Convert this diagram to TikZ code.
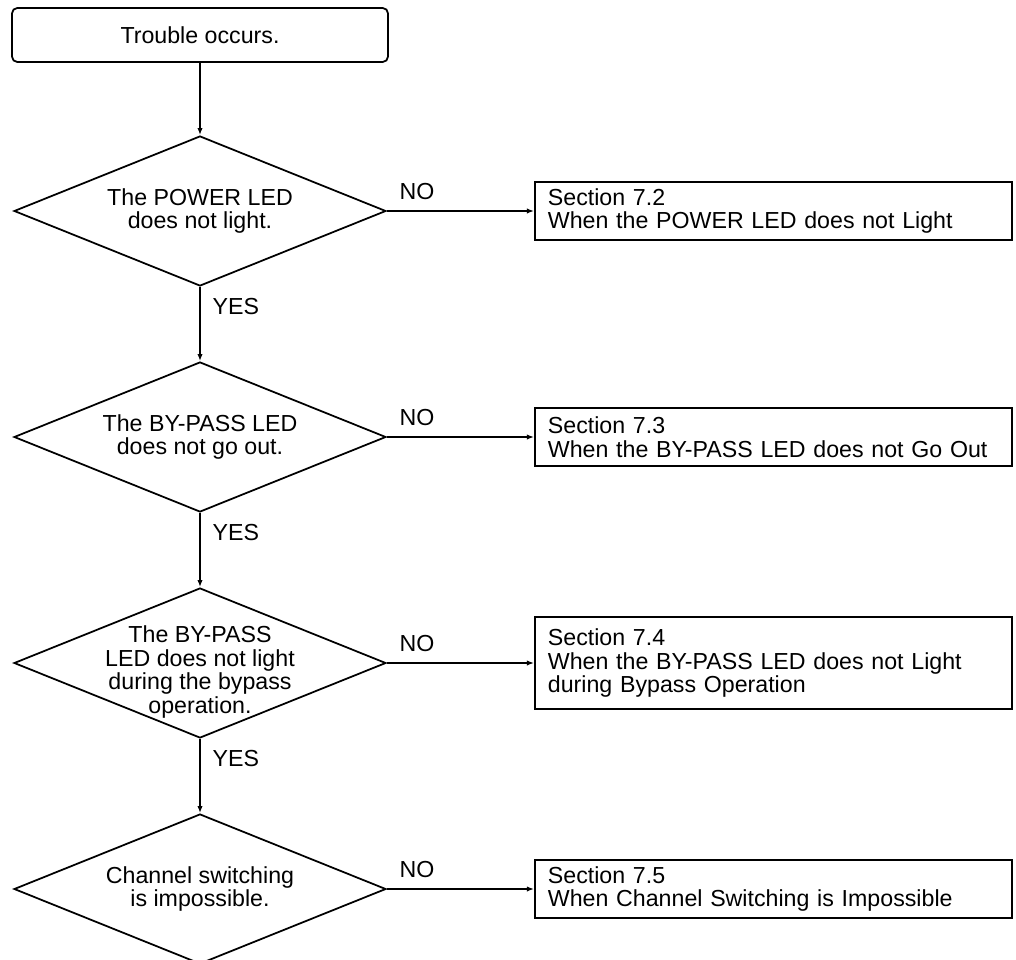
\documentclass[tikz,border=0pt]{standalone}
\usepackage{fontspec}
\setmainfont{Liberation Sans}
\usetikzlibrary{shapes.geometric,arrows.meta}

\begin{document}
\begin{tikzpicture}[x=0.02cm, y=-0.02cm,
    font=\fontsize{13.2}{13.6}\selectfont,
    start/.style={draw, line width=1pt, rounded corners=3pt, minimum width=7.52cm, minimum height=1.08cm},
    decision/.style={draw, diamond, line width=1pt, minimum width=7.44cm, minimum height=3cm, inner sep=0pt},
    dtext/.style={align=center, inner sep=0pt},
    sect/.style={draw, line width=1pt, anchor=west, text width=9.02cm, inner xsep=0.26cm, inner ysep=0.1cm, align=left, minimum height=1.16cm},
    arr/.style={-{Latex[length=4pt,width=3pt]}, line width=0.8pt},
    lbl/.style={inner sep=0pt}
]
\useasboundingbox (0,0) rectangle (1016,959);
\clip (0,0) rectangle (1016,959);

\node[start] (start) at (200,35) {Trouble occurs.};

\node[decision] (d1) at (200,211) {};
\node[dtext] (t1) at (d1) {The POWER LED\\does not light.};
\node[decision] (d2) at (200,437) {};
\node[dtext] (t2) at (d2) {The BY-PASS LED\\does not go out.};
\node[decision] (d3) at (200,663) {};
\node[dtext, yshift=-0.18cm] (t3) at (d3) {The BY-PASS\\LED does not light\\during the bypass\\operation.};
\node[decision] (d4) at (200,889) {};
\node[dtext] (t4) at (d4) {Channel switching\\is impossible.};

\node[sect] (s1) at (534,211) {Section 7.2\\When the POWER LED does not Light};
\node[sect] (s2) at (534,437) {Section 7.3\\When the BY-PASS LED does not Go Out};
\node[sect, minimum height=1.84cm] (s3) at (534,663) {Section 7.4\\When the BY-PASS LED does not Light\\during Bypass Operation};
\node[sect] (s4) at (534,889) {Section 7.5\\When Channel Switching is Impossible};

\draw[arr] (start) -- (d1);
\draw[arr] (d1) -- node[lbl, pos=0, anchor=north west, xshift=0.24cm, yshift=-0.22cm] {YES} (d2);
\draw[arr] (d2) -- node[lbl, pos=0, anchor=north west, xshift=0.24cm, yshift=-0.22cm] {YES} (d3);
\draw[arr] (d3) -- node[lbl, pos=0, anchor=north west, xshift=0.24cm, yshift=-0.22cm] {YES} (d4);

\draw[arr] (d1.east) -- node[lbl, pos=0, anchor=base west, xshift=0.24cm, yshift=0.24cm] {NO} (s1);
\draw[arr] (d2.east) -- node[lbl, pos=0, anchor=base west, xshift=0.24cm, yshift=0.24cm] {NO} (s2);
\draw[arr] (d3.east) -- node[lbl, pos=0, anchor=base west, xshift=0.24cm, yshift=0.24cm] {NO} (s3);
\draw[arr] (d4.east) -- node[lbl, pos=0, anchor=base west, xshift=0.24cm, yshift=0.24cm] {NO} (s4);
\end{tikzpicture}
\end{document}
